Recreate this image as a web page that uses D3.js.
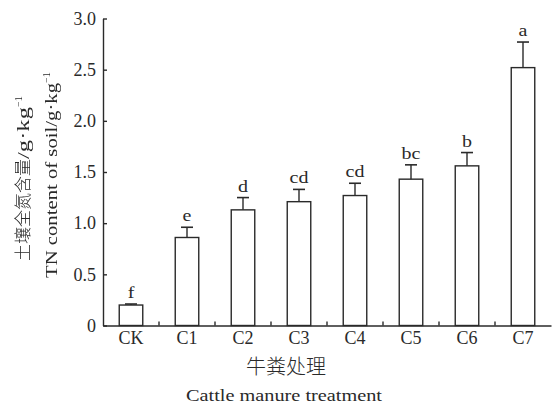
<!DOCTYPE html>
<html>
<head>
<meta charset="utf-8">
<script src="https://cdn.jsdelivr.net/npm/d3@7"></script>
<style>
  html, body { margin: 0; padding: 0; background: #fff; }
  svg { display: block; }
  text { font-family: "Liberation Serif", "DejaVu Serif", serif; fill: #2a2a2a; }
  .cjk { font-family: "Noto Sans CJK SC", sans-serif; font-weight: 300; }
  .gray-aa { filter: grayscale(1); }
</style>
</head>
<body>
<div id="chart"></div>
<script>
// Soil total nitrogen under cattle manure treatments
const categories = ["CK", "C1", "C2", "C3", "C4", "C5", "C6", "C7"];
const tnValues   = [0.20, 0.86, 1.13, 1.21, 1.27, 1.43, 1.56, 2.52];
const tnErrors   = [0.01, 0.10, 0.12, 0.12, 0.12, 0.14, 0.13, 0.25];
const sigLetters = ["f", "e", "d", "cd", "cd", "bc", "b", "a"];
const yTicks     = [0, 0.5, 1.0, 1.5, 2.0, 2.5, 3.0];
const yTickLabels = ["0", "0.5", "1.0", "1.5", "2.0", "2.5", "3.0"];

const W = 560, H = 405;
const plot = { left: 103, right: 551, top: 18.5, bottom: 325.5 };
const ink = "#2a2a2a";
const serif = "'Liberation Serif', serif";

const svg = d3.select("#chart").append("svg")
  .attr("width", W).attr("height", H);

const x = d3.scaleBand()
  .domain(categories)
  .range([plot.left, plot.right])
  .paddingInner(0.58)
  .paddingOuter(0.29);

const y = d3.scaleLinear()
  .domain([0, 3])
  .range([plot.bottom, plot.top]);

// Y axis: ticks point into the plot, labels on the left
const yAxis = d3.axisLeft(y)
  .tickValues(yTicks)
  .tickFormat((d, i) => yTickLabels[i])
  .tickSizeInner(-4)
  .tickSizeOuter(0)
  .tickPadding(7);

const gy = svg.append("g")
  .attr("transform", `translate(${plot.left},0)`)
  .call(yAxis);
gy.select(".domain").attr("stroke", ink).attr("stroke-width", 1.4);
gy.selectAll(".tick line").attr("stroke", ink).attr("stroke-width", 1.4);
gy.selectAll(".tick text")
  .attr("fill", ink)
  .style("font-family", serif)
  .style("font-size", "18px");

// X axis: category labels, small upward ticks between categories
const xAxis = d3.axisBottom(x).tickSize(0).tickPadding(6);
const gx = svg.append("g")
  .attr("transform", `translate(0,${plot.bottom})`)
  .call(xAxis);
gx.select(".domain").attr("stroke", ink).attr("stroke-width", 1.4);
gx.selectAll(".tick text")
  .attr("fill", ink)
  .style("font-family", serif)
  .style("font-size", "18px");

const step = x.step();
gx.selectAll(".sep")
  .data(categories.slice(0, -1))
  .join("line")
  .attr("class", "sep")
  .attr("x1", d => x(d) + x.bandwidth() / 2 + step / 2)
  .attr("x2", d => x(d) + x.bandwidth() / 2 + step / 2)
  .attr("y1", 0).attr("y2", -4)
  .attr("stroke", ink).attr("stroke-width", 1.4);

// Bars
svg.append("g").selectAll("rect")
  .data(categories)
  .join("rect")
  .attr("x", d => x(d))
  .attr("width", x.bandwidth())
  .attr("y", (d, i) => y(tnValues[i]))
  .attr("height", (d, i) => y(0) - y(tnValues[i]))
  .attr("fill", "#fff")
  .attr("stroke", ink)
  .attr("stroke-width", 1.4);

// Upper error bars
const capHalf = 6;
const eb = svg.append("g");
categories.forEach((c, i) => {
  const cx = x(c) + x.bandwidth() / 2;
  const top = y(tnValues[i] + tnErrors[i]);
  eb.append("line")
    .attr("x1", cx).attr("x2", cx)
    .attr("y1", y(tnValues[i])).attr("y2", top)
    .attr("stroke", ink).attr("stroke-width", 1.4);
  eb.append("line")
    .attr("x1", cx - capHalf).attr("x2", cx + capHalf)
    .attr("y1", top).attr("y2", top)
    .attr("stroke", ink).attr("stroke-width", 1.6);
});

// Significance letters (wide serif face)
svg.append("g").selectAll("text")
  .data(categories)
  .join("text")
  .attr("transform", (d, i) =>
    `translate(${x(d) + x.bandwidth() / 2},${y(tnValues[i] + tnErrors[i]) - 6}) scale(1.25,1)`)
  .attr("text-anchor", "middle")
  .style("font-size", "16px")
  .text((d, i) => sigLetters[i]);

// Axis titles
const yTitleCn = svg.append("text")
  .attr("class", "gray-aa")
  .attr("transform", "translate(29,261) rotate(-90)")
  .attr("text-anchor", "start");
yTitleCn.append("tspan").attr("class", "cjk").style("font-size", "17px").text("土壤全氮含量");
yTitleCn.append("tspan").style("font-size", "16px")
  .attr("textLength", 52).attr("lengthAdjust", "spacingAndGlyphs").text("/g·kg");
yTitleCn.append("tspan").attr("dy", -7).style("font-size", "10px").text("−1");

const yTitleEn = svg.append("text")
  .attr("class", "gray-aa")
  .attr("transform", "translate(57,278) rotate(-90)")
  .attr("text-anchor", "start");
yTitleEn.append("tspan").style("font-size", "16px")
  .attr("textLength", 195).attr("lengthAdjust", "spacingAndGlyphs")
  .text("TN content of soil/g·kg");
yTitleEn.append("tspan").attr("dy", -7).style("font-size", "10px").text("−1");

svg.append("text")
  .attr("class", "cjk")
  .attr("x", 286).attr("y", 374)
  .attr("text-anchor", "middle")
  .style("font-size", "20px")
  .text("牛粪处理");

svg.append("text")
  .attr("x", 186).attr("y", 401)
  .attr("text-anchor", "start")
  .attr("textLength", 196).attr("lengthAdjust", "spacingAndGlyphs")
  .style("font-size", "16px")
  .text("Cattle manure treatment");
</script>
</body>
</html>
